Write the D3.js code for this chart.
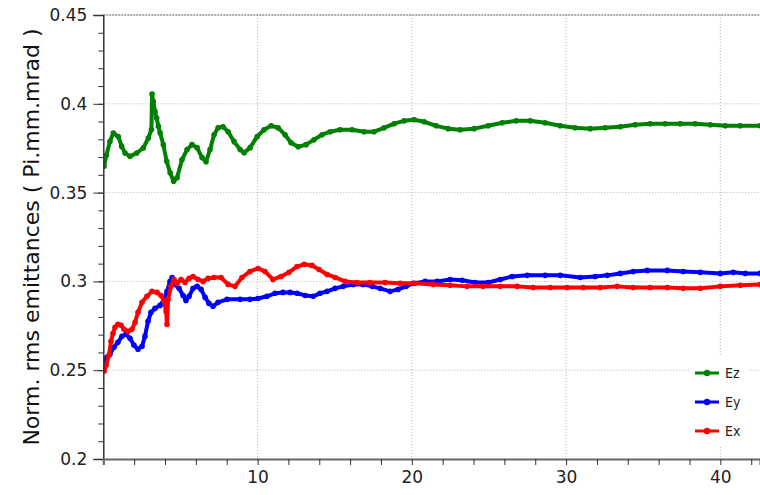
<!DOCTYPE html>
<html>
<head>
<meta charset="utf-8">
<script src="https://cdn.jsdelivr.net/npm/d3@7"></script>
<style>
  body { margin: 0; background: #fff; }
  svg { display: block; font-family: "DejaVu Sans", sans-serif; }
</style>
</head>
<body>
<svg id="chart" width="760" height="495"></svg>
<script>
// emittance vs. position
var ezData = [[0.05,0.3648],[0.2,0.371],[0.43,0.3788],[0.65,0.3835],[0.97,0.3816],[1.19,0.376],[1.41,0.3723],[1.73,0.3704],[2.17,0.3723],[2.59,0.3751],[2.92,0.3807],[3.12,0.3855],[3.16,0.4055],[3.24,0.4013],[3.35,0.3957],[3.46,0.392],[3.57,0.3873],[3.68,0.3837],[3.89,0.377],[4.11,0.3676],[4.33,0.3612],[4.56,0.3564],[4.78,0.3584],[5.10,0.3685],[5.43,0.3742],[5.75,0.377],[6.08,0.3753],[6.40,0.3697],[6.66,0.3674],[6.92,0.3742],[7.18,0.3826],[7.44,0.3865],[7.76,0.3871],[8.09,0.3843],[8.48,0.3787],[8.87,0.3742],[9.13,0.3725],[9.52,0.3753],[9.97,0.3815],[10.42,0.3854],[10.88,0.3876],[11.33,0.3865],[11.78,0.3826],[12.17,0.3781],[12.63,0.3758],[13.14,0.377],[13.66,0.3798],[14.18,0.3826],[14.70,0.3843],[15.35,0.3854],[16.13,0.3854],[16.91,0.3843],[17.55,0.3843],[18.20,0.3865],[18.85,0.3888],[19.50,0.3904],[20.15,0.391],[20.80,0.3899],[21.58,0.3876],[22.35,0.386],[23.13,0.3854],[24.04,0.386],[24.95,0.3876],[25.86,0.3893],[26.76,0.3904],[27.67,0.3904],[28.64,0.3893],[29.62,0.3876],[30.59,0.3865],[31.56,0.386],[32.53,0.3865],[33.50,0.3871],[34.48,0.3882],[35.45,0.3888],[36.42,0.3888],[37.40,0.3888],[38.37,0.3888],[39.34,0.3882],[40.32,0.3876],[41.29,0.3876],[42.59,0.3876]];

var eyData = [[0.05,0.255],[0.24,0.2573],[0.43,0.259],[0.69,0.2629],[0.95,0.2657],[1.21,0.2691],[1.47,0.2702],[1.73,0.268],[1.99,0.264],[2.25,0.2618],[2.51,0.2635],[2.70,0.2691],[2.90,0.2775],[3.09,0.2826],[3.35,0.2848],[3.68,0.2865],[3.94,0.2899],[4.13,0.2944],[4.33,0.300],[4.46,0.3022],[4.65,0.2983],[4.91,0.2961],[5.17,0.2921],[5.36,0.2893],[5.56,0.2916],[5.82,0.2961],[6.08,0.2972],[6.34,0.2955],[6.60,0.291],[6.85,0.2876],[7.11,0.286],[7.44,0.2882],[8.02,0.2899],[8.87,0.2899],[9.51,0.2899],[10.03,0.2904],[10.61,0.2916],[11.13,0.2933],[11.65,0.2938],[12.11,0.2938],[12.56,0.2933],[13.08,0.2921],[13.60,0.2916],[14.05,0.2933],[14.51,0.2944],[15.03,0.2961],[15.55,0.2972],[16.19,0.2983],[16.84,0.2983],[17.43,0.2972],[17.94,0.2961],[18.59,0.2944],[19.11,0.2955],[19.63,0.2972],[20.08,0.2989],[20.86,0.300],[21.64,0.300],[22.48,0.3011],[23.26,0.3006],[24.10,0.2994],[24.95,0.2994],[25.73,0.3011],[26.50,0.3028],[27.48,0.3034],[28.64,0.3034],[29.62,0.3034],[30.92,0.3022],[31.89,0.3028],[32.67,0.3034],[33.51,0.3045],[34.35,0.3056],[35.26,0.3062],[36.56,0.3062],[37.59,0.3056],[38.70,0.3051],[39.99,0.3045],[40.84,0.3051],[41.61,0.3045],[42.59,0.3045]];

var exData = [[0.05,0.2494],[0.18,0.2528],[0.37,0.2584],[0.50,0.2663],[0.63,0.2708],[0.76,0.2742],[0.95,0.2758],[1.15,0.2753],[1.34,0.273],[1.60,0.2719],[1.86,0.273],[2.06,0.277],[2.25,0.2826],[2.51,0.2882],[2.83,0.2916],[3.16,0.2944],[3.48,0.2938],[3.74,0.2921],[3.94,0.2888],[4.07,0.2831],[4.13,0.2758],[4.20,0.2899],[4.39,0.2972],[4.58,0.3011],[4.78,0.2989],[5.04,0.3011],[5.30,0.2994],[5.56,0.3017],[5.82,0.3028],[6.14,0.3011],[6.47,0.300],[6.79,0.3017],[7.18,0.3022],[7.63,0.3022],[8.09,0.2983],[8.54,0.2972],[8.99,0.3022],[9.51,0.3056],[10.03,0.3073],[10.48,0.3056],[11.00,0.3011],[11.52,0.3028],[12.04,0.3051],[12.56,0.3084],[13.02,0.3096],[13.53,0.309],[13.99,0.3067],[14.51,0.3039],[15.03,0.3022],[15.67,0.300],[16.45,0.2994],[17.29,0.2994],[18.27,0.2994],[19.24,0.2989],[20.21,0.2989],[21.38,0.2983],[22.48,0.2978],[23.58,0.2972],[24.62,0.2972],[25.73,0.2972],[26.83,0.2972],[27.87,0.2966],[28.97,0.2966],[30.07,0.2966],[31.11,0.2966],[32.21,0.2966],[33.31,0.2972],[34.35,0.2966],[35.45,0.2966],[36.56,0.2966],[37.59,0.2961],[38.70,0.2961],[39.99,0.2972],[41.29,0.2978],[42.59,0.2983]];

var seriesNames = ["Ez", "Ey", "Ex"];
var seriesColors = ["#008000", "#0000ff", "#ff0000"];
var xTickValues = [10, 20, 30, 40];
var yTickValues = [0.2, 0.25, 0.3, 0.35, 0.4, 0.45];
var yTickLabels = ["0.2", "0.25", "0.3", "0.35", "0.4", "0.45"];

var svg = d3.select("#chart");
var plotLeft = 103.3, plotRight = 760, plotTop = 15, plotBottom = 459;

var x = d3.scaleLinear().domain([0, 42.57]).range([plotLeft, plotRight]);
var y = d3.scaleLinear().domain([0.2, 0.45]).range([plotBottom, plotTop]);

svg.append("defs").append("clipPath").attr("id", "plot")
  .append("rect").attr("x", plotLeft).attr("y", plotTop - 5)
  .attr("width", plotRight - plotLeft).attr("height", plotBottom - plotTop + 5);

// grid
var grid = svg.append("g");
grid.selectAll(".gx").data(xTickValues).enter().append("line")
  .attr("x1", function (d) { return x(d); }).attr("x2", function (d) { return x(d); })
  .attr("y1", plotTop).attr("y2", plotBottom)
  .attr("stroke", "#b4b4b4").attr("stroke-dasharray", "1,2");
grid.selectAll(".gy").data(yTickValues.slice(1, 5)).enter().append("line")
  .attr("x1", plotLeft).attr("x2", plotRight)
  .attr("y1", function (d) { return y(d); }).attr("y2", function (d) { return y(d); })
  .attr("stroke", "#b4b4b4").attr("stroke-dasharray", "1,2");
// top frame line
svg.append("line").attr("x1", plotLeft).attr("x2", plotRight).attr("y1", y(0.45)).attr("y2", y(0.45))
  .attr("stroke", "#555").attr("stroke-dasharray", "2,1");

// series
var lines = svg.append("g").attr("clip-path", "url(#plot)");
var line = d3.line().x(function (d) { return x(d[0]); }).y(function (d) { return y(d[1]); });
[ezData, eyData, exData].forEach(function (data, i) {
  lines.append("path").datum(data).attr("d", line)
    .attr("fill", "none").attr("stroke", seriesColors[i]).attr("stroke-width", 4)
    .attr("stroke-linejoin", "round");
  lines.selectAll(".p" + i).data(data).enter().append("circle")
    .attr("cx", function (d) { return x(d[0]); })
    .attr("cy", function (d) { return y(d[1]); })
    .attr("r", 2.8).attr("fill", seriesColors[i]);
});

// axes
var yAxis = svg.append("g").attr("transform", "translate(" + plotLeft + ",0)")
  .call(d3.axisLeft(y).tickValues(yTickValues).tickSize(10).tickPadding(6)
    .tickFormat(function (d, i) { return yTickLabels[i]; }));
svg.append("g").attr("transform", "translate(" + plotLeft + ",0)")
  .call(d3.axisLeft(y).tickValues(d3.range(21, 45).map(function (d) { return d / 100; }))
    .tickSize(5).tickFormat(""))
  .select(".domain").remove();
yAxis.selectAll("text").attr("font-size", 17).attr("fill", "#222").attr("font-family", "DejaVu Sans");
yAxis.select(".domain").attr("stroke", "#333").attr("stroke-width", 1.5);

var xAxis = svg.append("g").attr("transform", "translate(0," + plotBottom + ")")
  .call(d3.axisBottom(x).tickValues(xTickValues).tickSize(6).tickPadding(6).tickFormat(d3.format("d")));
svg.append("g").attr("transform", "translate(0," + plotBottom + ")")
  .call(d3.axisBottom(x).tickValues(d3.range(2, 43, 2).filter(function (d) { return d % 10; }))
    .tickSize(6).tickFormat(""))
  .select(".domain").remove();
xAxis.selectAll("text").attr("font-size", 17).attr("fill", "#222").attr("font-family", "DejaVu Sans");
xAxis.select(".domain").attr("stroke", "#666").attr("stroke-width", 2.2);
svg.selectAll(".tick line").attr("stroke", "#333");

// y label
svg.append("text")
  .attr("transform", "translate(39,237) rotate(-90)")
  .attr("text-anchor", "middle")
  .attr("font-size", 22).attr("fill", "#111")
  .text("Norm. rms emittances ( Pi.mm.mrad )");

// legend
var legend = svg.append("g");
legend.append("rect").attr("x", 689).attr("y", 356).attr("width", 60).attr("height", 90).attr("fill", "#fff");
seriesNames.forEach(function (name, i) {
  var ly = 373 + i * 29;
  legend.append("line").attr("x1", 695).attr("x2", 719).attr("y1", ly).attr("y2", ly)
    .attr("stroke", seriesColors[i]).attr("stroke-width", 3);
  legend.append("circle").attr("cx", 707).attr("cy", ly).attr("r", 3.2).attr("fill", seriesColors[i]);
  legend.append("text").attr("x", 725).attr("y", ly + 5)
    .attr("font-size", 14).attr("font-family", "DejaVu Sans Condensed, DejaVu Sans").attr("fill", "#222")
    .text(name);
});
</script>
</body>
</html>
